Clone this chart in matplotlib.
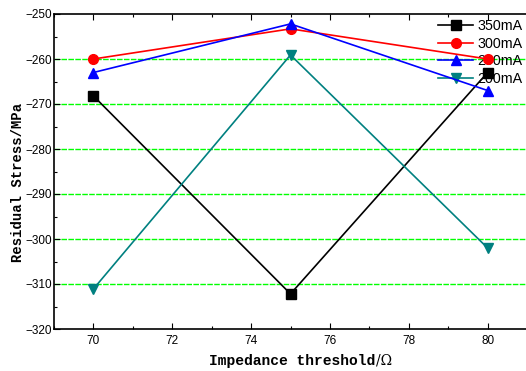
import matplotlib
matplotlib.use("Agg")
import matplotlib.pyplot as plt
from matplotlib.ticker import MultipleLocator

thresholds = [70, 75, 80]
stress_350 = [-268.2, -312.2, -263.0]
stress_300 = [-260.0, -253.3, -260.0]
stress_250 = [-263.0, -252.2, -267.0]
stress_200 = [-311.1, -259.1, -302.0]

series = [
    ("350mA", stress_350, "black", "s"),
    ("300mA", stress_300, "red", "o"),
    ("250mA", stress_250, "blue", "^"),
    ("200mA", stress_200, "#008080", "v"),
]

W, H = 526, 371
fig = plt.figure(figsize=(W / 100, H / 100), dpi=100)
ax = fig.add_axes([54 / W, 42 / H, 473 / W, 315 / H])

for label, vals, color, marker in series:
    ax.plot(thresholds, vals, color=color, marker=marker, markersize=7,
            linewidth=1.2, label=label, zorder=3)

ax.set_xlim(69, 81)
ax.set_ylim(-320, -250)
ax.xaxis.set_major_locator(MultipleLocator(2))
ax.xaxis.set_minor_locator(MultipleLocator(1))
ax.yaxis.set_major_locator(MultipleLocator(10))
ax.yaxis.set_minor_locator(MultipleLocator(5))
ax.tick_params(which="both", direction="in", top=True, right=False,
               labelsize=8.5, pad=1.5)
ax.tick_params(axis="x", which="both", pad=4)
ax.tick_params(which="major", length=4, width=0.8)
ax.tick_params(which="minor", length=2.5, width=0.8)
for lab in ax.get_xticklabels() + ax.get_yticklabels():
    lab.set_fontfamily("Liberation Sans")

for y in range(-310, -250, 10):
    ax.axhline(y, color="#00ff00", linestyle=(0, (4, 1)), linewidth=1.0,
               zorder=0)

for s in ax.spines.values():
    s.set_linewidth(1.2)
ax.spines["right"].set_visible(False)

# y axis title
fig.text(18 / W, 1 - 182 / H, "Residual Stress/MPa", rotation=90,
         ha="center", va="center", fontfamily="Liberation Mono",
         fontweight="bold", fontsize=10)

# x axis title: bold words followed by a plain "/Ω"
fig.text(375 / W, 1 - 361 / H, "Impedance threshold", ha="right",
         va="center", fontfamily="Liberation Mono", fontweight="bold",
         fontsize=10.5)
fig.text(376 / W, 1 - 360 / H, "/Ω", ha="left", va="center",
         fontfamily="DejaVu Serif", fontsize=10)

leg = ax.legend(loc="upper right", bbox_to_anchor=(1.008, 1.011),
                frameon=False, fontsize=10.3, handlelength=2.4,
                handletextpad=0.3, labelspacing=0.25, borderaxespad=0.2)
leg.set_zorder(2)
for t in leg.get_texts():
    t.set_fontfamily("Liberation Sans")

fig.savefig("out.png", dpi=100)
